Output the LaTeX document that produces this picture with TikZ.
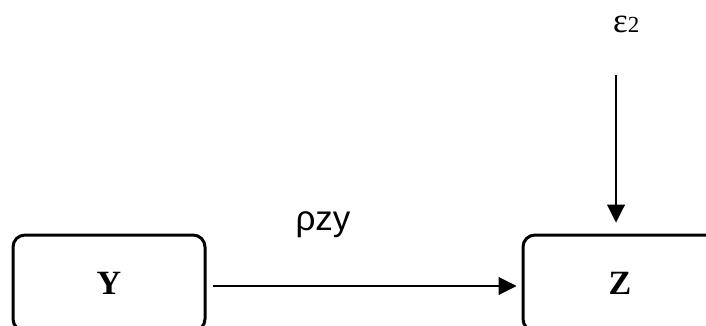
\documentclass[tikz,border=0pt]{standalone}
\usepackage{fontspec}
\setmainfont{Liberation Serif}
\newfontfamily\labelsans{Liberation Sans}
\usepackage{tikz}
\usetikzlibrary{positioning,arrows.meta}

\tikzset{
  varbox/.style={draw, line width=3pt, rounded corners=12pt,
    minimum width=192pt, minimum height=96pt,
    font=\fontsize{34}{40}\selectfont\bfseries},
  effect/.style={line width=1.1pt, -{Triangle[length=18pt,width=18pt]}},
}

\begin{document}
\begin{tikzpicture}[x=1pt, y=-1pt]
  % page frame, both boxes run off the lower edge
  \path[use as bounding box, clip] (0,0) rectangle (706,326);

  % Variables Y and Z (x: 13 to 205, 523 to 717)
  \node[varbox] (Y) at (109,283) {Y};
  \node[varbox, minimum width=194pt] (Z) at (620,283) {Z};

  % Path Y -> Z
  \node[anchor=base, font=\labelsans\fontsize{35}{40}\selectfont] (rzy) at (323,230) {ρzy};
  \draw[effect, shorten <=6pt, shorten >=5pt] ([yshift=-3pt]Y.east) -- ([yshift=-3pt]Z.west);

  % Error term on Z
  \node[anchor=base west, inner sep=0pt] (e2) at (613,33)
    {\fontsize{35}{40}\selectfont ε\fontsize{23}{26}\selectfont 2};
  \coordinate (e2tail) at (616,75);
  \draw[effect, shorten >=11pt] (e2tail) -- ([xshift=-4pt]Z.north);
\end{tikzpicture}
\end{document}
